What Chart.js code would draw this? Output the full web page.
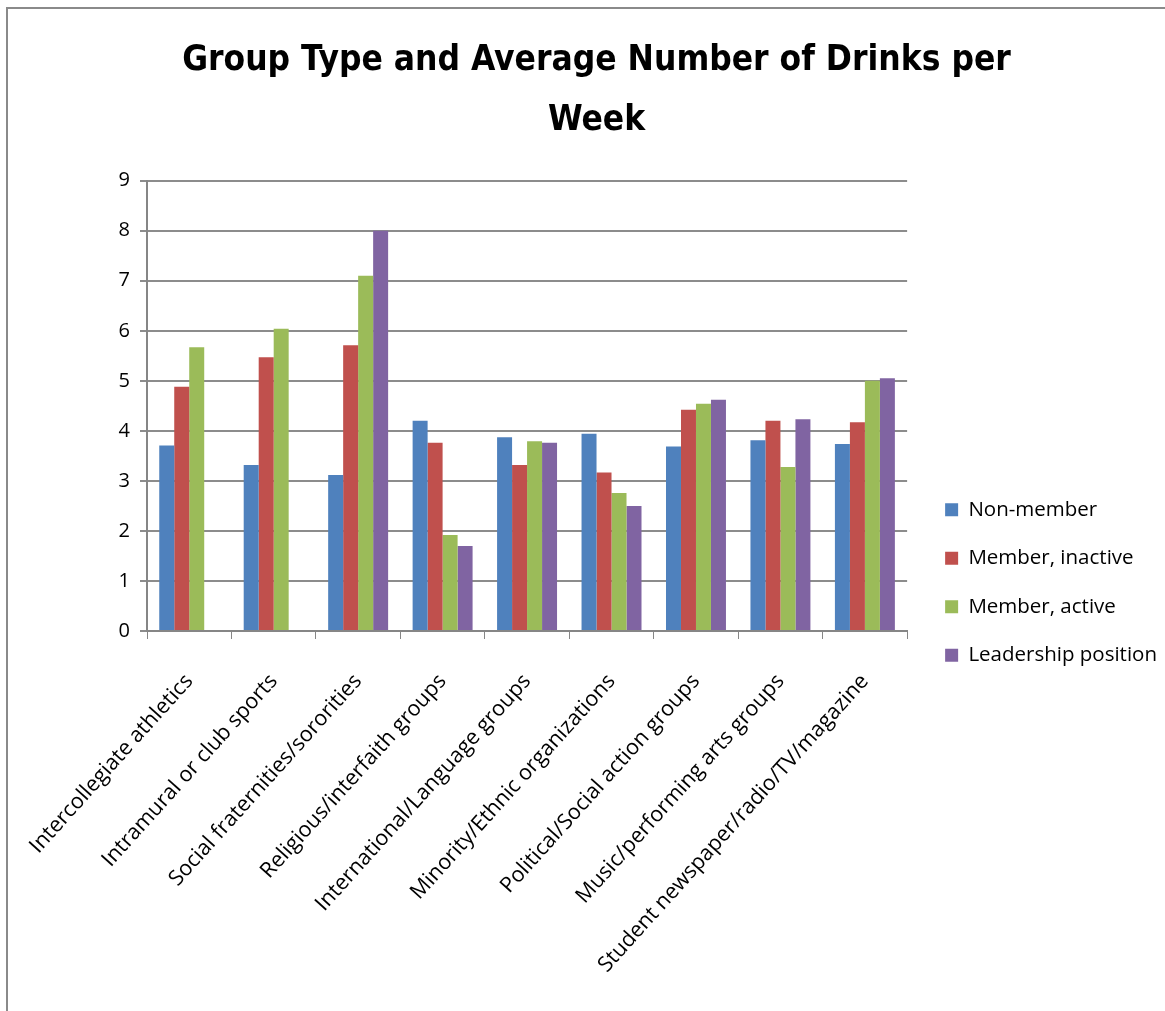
<!DOCTYPE html>
<html>
<head>
<meta charset="utf-8">
<script src="https://cdn.jsdelivr.net/npm/chart.js@4/dist/chart.umd.min.js"></script>
<style>
  html, body { margin: 0; padding: 0; background: #fff; }
  #wrap { position: relative; width: 1165px; height: 1011px; }
  #frame { position: absolute; left: 6px; top: 7px; right: -4px; bottom: -4px; border-left: 2px solid #8a8a8a; border-top: 2px solid #8a8a8a; }
</style>
</head>
<body>
<div id="wrap">
  <canvas id="drinks" width="1165" height="1011"></canvas>
  <div id="frame"></div>
</div>
<script>
var categories = ['Intercollegiate athletics', 'Intramural or club sports', 'Social fraternities/sororities',
    'Religious/interfaith groups', 'International/Language groups', 'Minority/Ethnic organizations',
    'Political/Social action groups', 'Music/performing arts groups', 'Student newspaper/radio/TV/magazine'];
var nonMember = [3.71, 3.32, 3.12, 4.20, 3.87, 3.94, 3.69, 3.81, 3.74];
var memberInactive = [4.88, 5.47, 5.71, 3.76, 3.32, 3.17, 4.42, 4.20, 4.17];
var memberActive = [5.67, 6.04, 7.10, 1.92, 3.79, 2.76, 4.54, 3.28, 5.00];
var leadership = [null, null, 8.00, 1.70, 3.76, 2.50, 4.62, 4.23, 5.05];
var yTicks = [0, 1, 2, 3, 4, 5, 6, 7, 8, 9];

Chart.defaults.font.family = "'Open Sans', 'Liberation Sans', sans-serif";
Chart.defaults.color = '#000';

// small nudges after layout: legend towards the right edge, title a bit right
var nudges = {
    id: 'nudges',
    afterLayout: function (chart) {
        chart.legend.left += 10;
        chart.legend.right += 10;
        chart.titleBlock.left += 8;
        chart.titleBlock.right += 8;
    }
};

var ctx = document.getElementById('drinks');
var myChart = new Chart(ctx, {
    type: 'bar',
    plugins: [nudges],
    data: {
        labels: categories,
        datasets: [
            { label: 'Non-member', data: nonMember, backgroundColor: '#4F81BD' },
            { label: 'Member, inactive', data: memberInactive, backgroundColor: '#C0504D' },
            { label: 'Member, active', data: memberActive, backgroundColor: '#9BBB59' },
            { label: 'Leadership position', data: leadership, backgroundColor: '#8064A2' },
        ]
    },
    options: {
        responsive: false,
        animation: false,
        layout: {
            padding: { left: 20, right: 8, top: 0, bottom: 10 },
        },
        plugins: {
            title: {
                display: true,
                text: ['Group Type and Average Number of Drinks per', 'Week'],
                font: { family: "'DejaVu Sans Condensed', 'Liberation Sans', sans-serif", size: 35, weight: 'bold', lineHeight: 1.71 },
                padding: { top: 31, bottom: 30 },
            },
            legend: {
                position: 'right',
                title: {
                    display: true,
                    text: ' ',
                    font: { size: 20 },
                    padding: { top: 140, bottom: 0 },
                },
                labels: {
                    boxWidth: 13,
                    boxHeight: 13,
                    padding: 28,
                    font: { size: 20.5 },
                },
            },
            tooltip: { enabled: false },
        },
        scales: {
            x: {
                grid: {
                    drawOnChartArea: false,
                    offset: true,
                    tickLength: 8,
                    color: '#868686',
                },
                border: { color: '#868686', width: 2 },
                ticks: {
                    minRotation: 48,
                    maxRotation: 48,
                    autoSkip: false,
                    padding: 30,
                    font: { size: 21.5 },
                },
                afterFit: function (scale) {
                    scale.height = 370;
                    scale.paddingLeft = 0;
                    scale.paddingRight = 0;
                },
            },
            y: {
                min: 0,
                max: 9,
                afterBuildTicks: function (scale) {
                    scale.ticks = yTicks.map(function (v) { return { value: v }; });
                },
                grid: {
                    color: '#8c8c8c',
                    lineWidth: 2,
                    tickLength: 7,
                },
                border: { color: '#868686', width: 2 },
                ticks: {
                    padding: 10,
                    font: { size: 20 },
                },
                afterFit: function (scale) { scale.width = 127; },
            },
        },
        datasets: {
            bar: {
                categoryPercentage: 0.71,
                barPercentage: 1,
            },
        },
    },
});
myChart.update();
</script>
</body>
</html>
